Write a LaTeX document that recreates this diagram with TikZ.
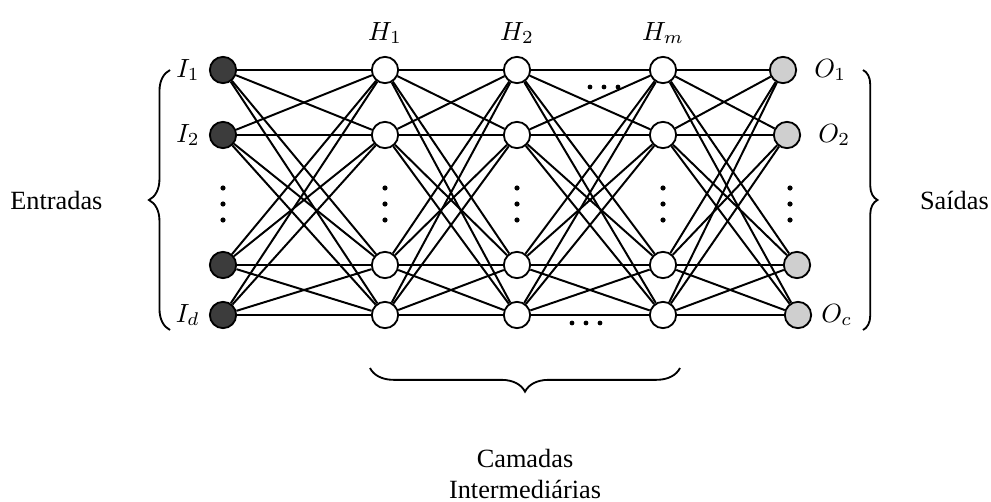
\documentclass[tikz,border=0pt]{standalone}
\usepackage{fontspec}
\setmainfont{Liberation Serif}
\usetikzlibrary{decorations.pathreplacing}
\definecolor{inputfill}{HTML}{3C3C3C}
\definecolor{outputfill}{HTML}{CFCFCF}
\tikzset{
  neuron/.style={circle, draw=black, line width=0.7pt, minimum size=10pt, inner sep=0pt},
  inputneuron/.style={neuron, fill=inputfill},
  hiddenneuron/.style={neuron, fill=white},
  outputneuron/.style={neuron, fill=outputfill},
  synapse/.style={draw=black, line width=0.75pt},
  layerbrace/.style={draw=black, line width=0.7pt, decorate, decoration={brace, amplitude=#1}},
  layerbrace/.default=6pt,
  dotmark/.style={fill=black}
}

\begin{document}
\begin{tikzpicture}[x=0.38pt, y=-0.38pt]
  \useasboundingbox (0,0) rectangle (991,502);
  % entradas
  \node[inputneuron, label={[label distance=0pt]left:$I_1$}] (in1) at (223,70) {};
  \node[inputneuron, label={[label distance=0pt]left:$I_2$}] (in2) at (223,135) {};
  \node[inputneuron] (in3) at (223,265) {};
  \node[inputneuron, label={[label distance=0pt]left:$I_d$}] (in4) at (223,315) {};
  % camadas intermediarias
  \node[hiddenneuron, label={[label distance=1pt]above:$H_1$}] (ha1) at (385,70) {};
  \node[hiddenneuron] (ha2) at (385,135) {};
  \node[hiddenneuron] (ha3) at (385,265) {};
  \node[hiddenneuron] (ha4) at (385,315) {};
  \node[hiddenneuron, label={[label distance=1pt]above:$H_2$}] (hb1) at (517,70) {};
  \node[hiddenneuron] (hb2) at (517,135) {};
  \node[hiddenneuron] (hb3) at (517,265) {};
  \node[hiddenneuron] (hb4) at (517,315) {};
  \node[hiddenneuron, label={[label distance=1pt]above:$H_m$}] (hm1) at (663,70) {};
  \node[hiddenneuron] (hm2) at (663,135) {};
  \node[hiddenneuron] (hm3) at (663,265) {};
  \node[hiddenneuron] (hm4) at (663,315) {};
  % saidas
  \node[outputneuron, label={[label distance=3pt]right:$O_1$}] (out1) at (783,70) {};
  \node[outputneuron, label={[label distance=3pt]right:$O_2$}] (out2) at (787,135) {};
  \node[outputneuron] (out3) at (797,265) {};
  \node[outputneuron, label={[label distance=0pt]right:$O_c$}] (out4) at (798,315) {};

  \foreach \a in {1,...,4}{
    \foreach \b in {1,...,4}{
      \draw[synapse] (in\a) -- (ha\b);
      \draw[synapse] (ha\a) -- (hb\b);
      \draw[synapse] (hb\a) -- (hm\b);
      \draw[synapse] (hm\a) -- (out\b);
    }
  }

  % reticencias
  \foreach \x in {223,385,517,663,790}{
    \foreach \y in {188,204,220}{
      \fill[dotmark] (\x,\y) circle (2.6);
    }
  }
  \foreach \x in {590,604,618}{\fill[dotmark] (\x,87) circle (2.4);}
  \foreach \x in {572,586,600}{\fill[dotmark] (\x,323) circle (2.4);}

  % chaves
  \draw[layerbrace=8pt] (170,330) -- node[left=22pt] (entradas) {Entradas} (170,70);
  \draw[layerbrace=5.5pt] (863,70) -- node[right=18pt] (saidas) {Saídas} (863,330);
  \draw[layerbrace=9pt] (680,368) -- node[below=27pt, align=center] (camadas) {Camadas\\Intermediárias} (370,368);
\end{tikzpicture}
\end{document}
